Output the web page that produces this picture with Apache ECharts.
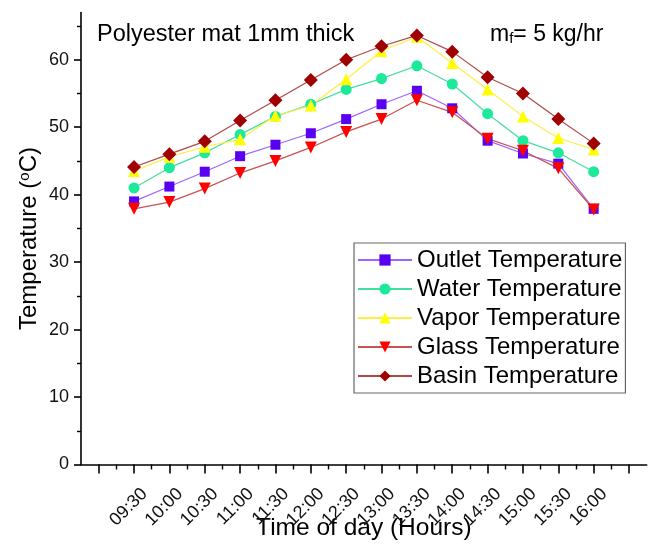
<!DOCTYPE html>
<html>
<head>
<meta charset="utf-8">
<script src="https://cdn.jsdelivr.net/npm/echarts@6/dist/echarts.min.js"></script>
<style>
html,body{margin:0;padding:0;background:#fff;}
#chart{width:649px;height:544px;}
</style>
</head>
<body>
<div id="chart"></div>
<script>
var categories = ['09:30','10:00','10:30','11:00','11:30','12:00','12:30','13:00','13:30','14:00','14:30','15:00','15:30','16:00'];
var outletTemp = [39.0, 41.2, 43.4, 45.7, 47.4, 49.1, 51.2, 53.4, 55.4, 52.8, 48.0, 46.1, 44.6, 37.9];
var waterTemp  = [41.0, 44.0, 46.2, 48.9, 51.6, 53.4, 55.6, 57.2, 59.1, 56.4, 52.0, 48.0, 46.2, 43.4];
var vaporTemp  = [43.5, 45.6, 47.1, 48.2, 51.7, 53.2, 57.1, 61.3, 63.4, 59.5, 55.6, 51.6, 48.4, 46.7];
var glassTemp  = [37.9, 38.9, 40.9, 43.2, 45.0, 47.0, 49.3, 51.2, 54.0, 52.2, 48.3, 46.5, 43.9, 37.8];
var basinTemp  = [44.1, 46.0, 47.9, 51.0, 54.0, 57.0, 60.0, 62.0, 63.6, 61.2, 57.4, 55.0, 51.2, 47.6];
var yTicks = [0, 10, 20, 30, 40, 50, 60];
var yMinorTicks = [5, 15, 25, 35, 45, 55, 65];

var FONT = '"Liberation Sans", Arial, sans-serif';
function pairs(arr){ return arr.map(function(v,i){ return [i+1, v]; }); }
var xMajor = [], xMinor = [], xLabelPos = [];
for (var i = 0; i <= categories.length + 1; i++) xMajor.push(i);
for (var j = 0; j <= categories.length; j++) xMinor.push(j + 0.5);
categories.forEach(function(c,i){ xLabelPos.push(i+1); });

var chart = echarts.init(document.getElementById('chart'), null, {renderer:'canvas'});
function mkSeries(name, data, symbol, size, mColor, lColor, rot){
  return {
    name: name, type: 'line', data: pairs(data), symbol: symbol, symbolSize: size,
    symbolRotate: rot || 0,
    itemStyle: {color: mColor},
    lineStyle: {color: lColor, width: 1.2},
    emphasis: {disabled: true}, animation: false, z: 3
  };
}
var axisLine = {show: true, onZero: false, lineStyle: {color: '#000', width: 1.6}};
var option = {
  animation: false,
  backgroundColor: '#fff',
  grid: {left: 81, right: 2.3, top: 12.5, bottom: 79.5, containLabel: false, outerBoundsMode: 'none'},
  xAxis: [{
    type: 'value', min: -0.5, max: categories.length + 1.5,
    axisLine: axisLine,
    splitLine: {show: false},
    axisTick: {show: true, inside: false, length: 9, customValues: xMajor, lineStyle: {color: '#000', width: 1.6}},
    axisLabel: {show: true, customValues: xLabelPos, rotate: 45, margin: 16, fontSize: 18, fontFamily: FONT, color: '#111',
      verticalAlign: 'top', padding: [6, 0, 0, 0],
      formatter: function(v){ var k = Math.round(v) - 1; return categories[k] || ''; }},
    name: 'Time of day (Hours)', nameLocation: 'middle', nameGap: 51, nameMoveOverlap: false,
    nameTextStyle: {fontSize: 24.5, fontFamily: FONT, color: '#000'}
  },{
    type: 'value', min: -0.5, max: categories.length + 1.5, position: 'bottom',
    axisLine: {show: false, onZero: false}, splitLine: {show: false},
    axisTick: {show: true, inside: false, length: 5, customValues: xMinor, lineStyle: {color: '#000', width: 1.4}},
    axisLabel: {show: false}
  }],
  yAxis: [{
    type: 'value', min: 0, max: 67,
    axisLine: axisLine,
    splitLine: {show: false},
    axisTick: {show: true, inside: false, length: 7, customValues: yTicks, lineStyle: {color: '#000', width: 1.6}},
    axisLabel: {show: true, customValues: yTicks, margin: 12, fontSize: 18, fontFamily: FONT, color: '#111'},
    name: 'Temperature ({sup|o}C)', nameLocation: 'middle', nameGap: 39, nameMoveOverlap: false,
    nameTextStyle: {fontSize: 24, fontFamily: FONT, color: '#000',
      rich: {sup: {fontSize: 15, fontFamily: FONT, color: '#000', verticalAlign: 'top', padding: [0,0,10,0]}}}
  },{
    type: 'value', min: 0, max: 67, position: 'left',
    axisLine: {show: false, onZero: false}, splitLine: {show: false},
    axisTick: {show: true, inside: false, length: 4, customValues: yMinorTicks, lineStyle: {color: '#000', width: 1.4}},
    axisLabel: {show: false}
  }],
  legend: {
    show: true, orient: 'vertical', left: 354, top: 243,
    backgroundColor: '#fff', borderColor: '#666', borderWidth: 1.2,
    padding: [5, 3, 5, 3], itemGap: 5, itemWidth: 54, itemHeight: 14, itemSymbolKeepAspect: true,
    textStyle: {fontSize: 24, fontFamily: FONT, color: '#000', lineHeight: 24},
    data: ['Outlet Temperature','Water Temperature','Vapor Temperature','Glass Temperature','Basin Temperature']
  },
  graphic: [
    {type: 'text', left: 97, top: 23, style: {text: 'Polyester mat 1mm thick', font: '23.5px ' + FONT, fill: '#000'}},
    {type: 'text', left: 490, top: 23, style: {text: '{m|m}{s|f}{m|= 5 kg/hr}', font: '23px ' + FONT, fill: '#000',
      rich: {m: {fontSize: 23, fontFamily: FONT, fill: '#000'}, s: {fontSize: 15, fontFamily: FONT, fill: '#000', verticalAlign: 'bottom', padding: [8,0,0,0]}}}}
  ],
  series: [
    mkSeries('Outlet Temperature', outletTemp, 'rect', 10, '#5a00f0', '#9a66ff'),
    mkSeries('Water Temperature', waterTemp, 'circle', 11, '#1de99a', '#44dd9f'),
    mkSeries('Vapor Temperature', vaporTemp, 'triangle', 12, '#ffff00', '#ffee44'),
    mkSeries('Glass Temperature', glassTemp, 'triangle', 12, '#ff0000', '#cc5050', 180),
    mkSeries('Basin Temperature', basinTemp, 'diamond', 14, '#a00000', '#b04848')
  ]
};
chart.setOption(option);
</script>
</body>
</html>
